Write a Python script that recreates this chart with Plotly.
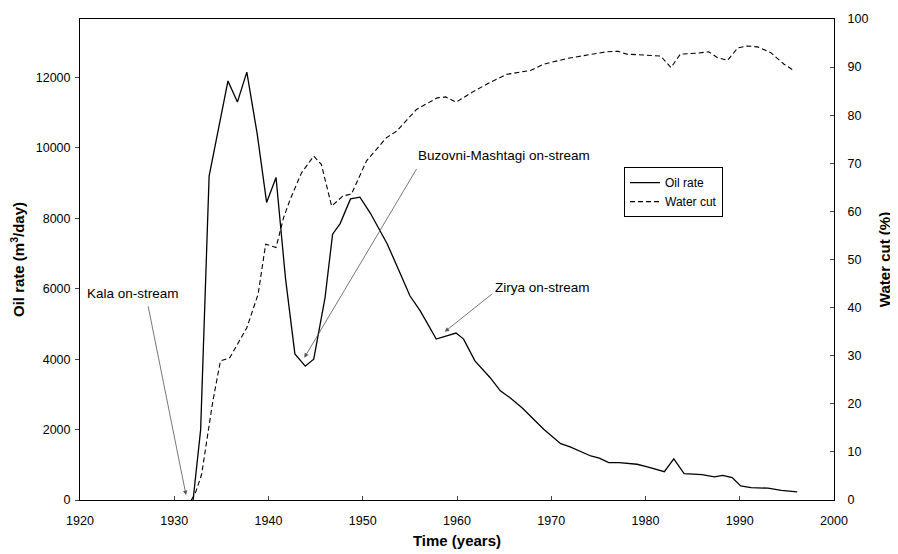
import plotly.graph_objects as go

# ---- data ----
oil_years = [1932.0, 1932.8, 1933.7, 1935.7, 1936.7, 1937.7, 1938.8, 1939.8, 1940.8, 1941.8,
             1942.8, 1943.9, 1944.8, 1946.0, 1946.8, 1947.6, 1948.7, 1949.7, 1950.8, 1951.7,
             1952.6, 1954.0, 1955.0, 1956.1, 1957.1, 1957.8, 1958.9, 1959.9, 1960.7, 1961.9,
             1963.5, 1964.6, 1965.6, 1966.9, 1969.2, 1971.0, 1972.0, 1974.2, 1975.1, 1976.1,
             1977.2, 1979.1, 1980.2, 1981.3, 1982.0, 1983.0, 1984.1, 1986.0, 1987.3, 1988.2,
             1989.2, 1990.1, 1991.2, 1993.0, 1994.4, 1996.1]
oil_rate = [0, 2000, 9200, 11900, 11300, 12150, 10400, 8450, 9160, 6300,
            4150, 3800, 4000, 5750, 7550, 7850, 8550, 8600, 8150, 7700,
            7270, 6420, 5800, 5370, 4900, 4570, 4660, 4740, 4570, 3950,
            3480, 3100, 2910, 2620, 2010, 1600, 1510, 1250, 1190, 1060,
            1060, 1015, 940, 845, 805, 1165, 750, 720, 655, 700,
            635, 400, 350, 335, 275, 230]

wc_years = [1931.8, 1932.2, 1932.9, 1934.1, 1934.9, 1935.9, 1937.7, 1938.9, 1939.7, 1940.8,
            1941.6, 1942.3, 1943.5, 1944.8, 1945.6, 1946.7, 1947.9, 1948.8, 1950.4, 1952.5,
            1953.6, 1955.7, 1957.9, 1958.8, 1959.9, 1961.8, 1963.5, 1965.3, 1967.8, 1969.2,
            1971.7, 1974.2, 1975.9, 1977.1, 1978.0, 1979.8, 1981.6, 1982.7, 1983.7, 1985.5,
            1986.7, 1987.6, 1988.7, 1989.8, 1990.8, 1991.9, 1993.3, 1994.7, 1995.8]
water_cut = [0, 1.2, 5.3, 20.6, 28.9, 29.6, 35.8, 42.8, 53.2, 52.5,
             58.7, 62.5, 68.0, 71.5, 69.8, 61.1, 63.2, 63.6, 70.5, 75.3,
             76.7, 81.2, 83.6, 83.8, 82.7, 85.0, 86.8, 88.5, 89.3, 90.6,
             91.8, 92.7, 93.2, 93.3, 92.7, 92.5, 92.3, 89.9, 92.7, 92.9,
             93.2, 92.0, 91.4, 94.0, 94.4, 94.2, 93.0, 90.6, 89.2]

x_ticks = [1920, 1930, 1940, 1950, 1960, 1970, 1980, 1990, 2000]
y_ticks = [0, 2000, 4000, 6000, 8000, 10000, 12000]
y2_ticks = [0, 10, 20, 30, 40, 50, 60, 70, 80, 90, 100]

# annotations: (text, text_x, text_y, tail_x, tail_y, tip_x, tip_y) in data units of the left axis
labels = [
    ("Kala on-stream", 1925.6, 5860, 1927.2, 5545, 1931.25, 140),
    ("Buzovni-Mashtagi on-stream", 1965.0, 9780, 1955.8, 9440, 1943.8, 4040),
    ("Zirya on-stream", 1969.1, 6030, 1963.9, 5890, 1958.7, 4780),
]

FONT = "Arial, 'Liberation Sans', sans-serif"

fig = go.Figure()
fig.add_trace(go.Scatter(x=oil_years, y=oil_rate, mode="lines", name="Oil rate",
                         line=dict(color="black", width=1.3)))
fig.add_trace(go.Scatter(x=wc_years, y=water_cut, mode="lines", name="Water cut",
                         yaxis="y2", line=dict(color="black", width=1.1, dash="5px,3px")))

anns = []
for text, tx, ty, ax_, ay_, px, py in labels:
    anns.append(dict(x=px, y=py, xref="x", yref="y", ax=ax_, ay=ay_, axref="x", ayref="y",
                     text="", showarrow=True, arrowhead=2, arrowsize=1.1, arrowwidth=0.8,
                     arrowcolor="#555555", standoff=0, startstandoff=0))
    anns.append(dict(x=tx, y=ty, xref="x", yref="y", text=text, showarrow=False,
                     font=dict(family=FONT, size=13.5, color="black")))

# the page body adds an 8px margin, so the figure is sized to sit inside the window
fig.update_layout(
    width=890, height=546,
    margin=dict(l=72, r=64, t=11, b=54, autoexpand=False),
    paper_bgcolor="white", plot_bgcolor="white",
    font=dict(family=FONT, size=12.5, color="black"),
    showlegend=True,
    legend=dict(x=0.7215, y=0.692, xanchor="left", yanchor="top",
                bordercolor="black", borderwidth=1, bgcolor="white",
                font=dict(family=FONT, size=12), tracegroupgap=0),
    annotations=anns,
    xaxis=dict(range=[1920, 2000], tickvals=x_ticks, ticks="inside", ticklen=4,
               showline=True, linecolor="black", linewidth=1, mirror=True,
               showgrid=False, zeroline=False, automargin=False, ticklabelstandoff=9,
               title=dict(text="<b>Time (years)</b>", font=dict(family=FONT, size=15), standoff=8)),
    yaxis=dict(range=[0, 13660], tickvals=y_ticks, tickformat="d", ticks="outside", ticklen=4,
               showline=True, linecolor="black", linewidth=1, mirror=True,
               showgrid=False, zeroline=False, automargin=False, ticklabelstandoff=2,
               title=dict(text="<b>Oil rate (m<sup>3</sup>/day)</b>", font=dict(family=FONT, size=15), standoff=7)),
    yaxis2=dict(range=[0, 100], tickvals=y2_ticks, ticks="inside", ticklen=4,
                overlaying="y", side="right", showline=True, linecolor="black", linewidth=1,
                showgrid=False, zeroline=False, automargin=False, ticklabelstandoff=10,
                title=dict(text="<b>Water cut (%)</b>", font=dict(family=FONT, size=15), standoff=12)),
)

fig.write_html("out.html")
